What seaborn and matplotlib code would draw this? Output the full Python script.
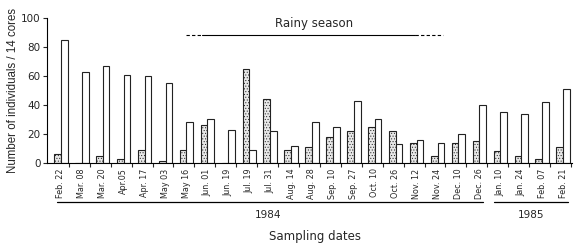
import matplotlib
matplotlib.use("Agg")
import matplotlib.pyplot as plt
import matplotlib.transforms as mtransforms
import numpy as np
import pandas as pd
import seaborn as sns

sns.set_style('ticks')
plt.rcParams['font.family'] = ['DejaVu Sans']
plt.rcParams['hatch.color'] = '#9a9a9a'
plt.rcParams['hatch.linewidth'] = 0.4

dates = ["Feb. 22", "Mar. 08", "Mar. 20", "Apr.05", "Apr. 17", "May 03", "May 16",
         "Jun. 01", "Jun. 19", "Jul. 19", "Jul. 31", "Aug. 14", "Aug. 28", "Sep. 10",
         "Sep. 27", "Oct. 10", "Oct. 26", "Nov. 12", "Nov. 24", "Dec. 10", "Dec. 26",
         "Jan. 10", "Jan. 24", "Feb. 07", "Feb. 21"]
gray_vals = [6, 0, 5, 3, 9, 1, 9, 26, 0, 65, 44, 9, 11, 18, 22, 25, 22, 14, 5, 14, 15,
             8, 5, 3, 11]
white_vals = [85, 63, 67, 61, 60, 55, 28, 30, 23, 9, 22, 12, 28, 25, 43, 30, 13, 16, 14,
              20, 40, 35, 34, 42, 51]
years = ["1984", "1985"]

df = pd.DataFrame({
    "date": dates * 2,
    "kind": ["gray"] * len(dates) + ["white"] * len(dates),
    "count": gray_vals + white_vals,
})

fig = plt.figure(figsize=(5.79, 2.48), dpi=100)
ax = fig.add_axes([0.081, 0.343, 0.907, 0.584])
sns.barplot(data=df, x="date", y="count", hue="kind", order=dates,
            palette=["#e8e8e8", "white"], edgecolor="#222222", linewidth=0.8,
            width=0.64, legend=False, ax=ax)
for p in ax.containers[0]:
    p.set_hatch("......")

ax.set_xlim(-0.67, 24.43)
ax.set_ylim(0, 100)
ax.set_yticks([0, 20, 40, 60, 80, 100])
ax.tick_params(axis='y', labelsize=7.5, length=3, width=0.8, pad=1.5)
ax.set_xticks(np.arange(len(dates)))
ax.set_xticklabels(dates, rotation=90, fontsize=5.8)
ax.tick_params(axis='x', which='major', length=0, pad=4)
ax.set_xticks(np.arange(len(dates)) + 0.38, minor=True)
ax.tick_params(axis='x', which='minor', length=3, width=0.8, direction='out')
sns.despine(ax=ax)
for s in ["left", "bottom"]:
    ax.spines[s].set_linewidth(0.8)
    ax.spines[s].set_color("black")
ax.set_xlabel("")
ax.set_ylabel("Number of individuals / 14 cores", fontsize=8.3,
              family=["Liberation Sans", "DejaVu Sans"], labelpad=1.5)

# rainy season marker
ax.plot([5.98, 6.73], [88.3, 88.3], color="black", lw=0.8, ls=(0, (3, 2)), clip_on=False)
ax.plot([6.73, 16.92], [88.3, 88.3], color="black", lw=0.8, clip_on=False)
ax.plot([16.92, 18.27], [88.3, 88.3], color="black", lw=0.8, ls=(0, (3, 2)), clip_on=False)
ax.text(12.1, 96.3, "Rainy season", ha="center", va="center", fontsize=8.5)

# year brackets below axis
trans = mtransforms.blended_transform_factory(ax.transData, ax.transAxes)
ax.plot([-0.19, 20.17], [-0.269, -0.269], color="black", lw=0.9, transform=trans, clip_on=False)
ax.plot([20.7, 24.24], [-0.269, -0.269], color="black", lw=0.9, transform=trans, clip_on=False)
ax.text(9.9, -0.36, years[0], ha="center", va="center", fontsize=7.5, transform=trans)
ax.text(22.45, -0.36, years[1], ha="center", va="center", fontsize=7.5, transform=trans)
ax.text(12.15, -0.507, "Sampling dates", ha="center", va="center", fontsize=8.5, transform=trans)

fig.savefig("out.png", dpi=100)
